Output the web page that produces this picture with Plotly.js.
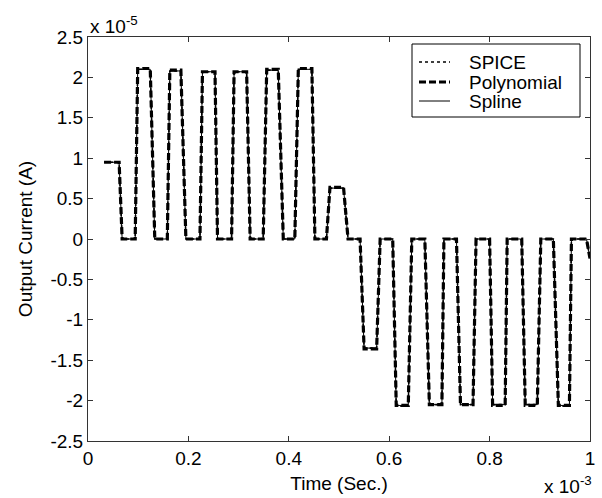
<!DOCTYPE html>
<html>
<head>
<meta charset="utf-8">
<script src="https://cdn.plot.ly/plotly-3.0.1.min.js"></script>
<style>html,body{margin:0;padding:0;background:#fff;}#chart{width:602px;height:498px;}</style>
</head>
<body>
<div id="chart"></div>
<script>
// Time in units of 1e-3 s, current in units of 1e-5 A (as displayed with axis multipliers)
const timeMs = [0.032, 0.062, 0.068, 0.094, 0.099, 0.124, 0.133, 0.158, 0.163, 0.185, 0.195, 0.223, 0.228, 0.253, 0.258, 0.286, 0.291, 0.316, 0.323, 0.349, 0.356, 0.379, 0.389, 0.412, 0.419, 0.446, 0.452, 0.475, 0.482, 0.509, 0.518, 0.542, 0.550, 0.575, 0.582, 0.607, 0.614, 0.638, 0.645, 0.671, 0.680, 0.705, 0.709, 0.734, 0.742, 0.767, 0.773, 0.800, 0.806, 0.831, 0.835, 0.864, 0.871, 0.895, 0.902, 0.927, 0.937, 0.959, 0.963, 0.993, 1.000];
const spice = [0.95, 0.95, 0, 0, 2.10, 2.10, 0, 0, 2.08, 2.08, 0, 0, 2.07, 2.07, 0, 0, 2.07, 2.07, 0, 0, 2.09, 2.09, 0, 0, 2.10, 2.10, 0, 0, 0.63, 0.63, 0, 0, -1.35, -1.35, 0, 0, -2.07, -2.07, 0, 0, -2.05, -2.05, 0, 0, -2.05, -2.05, 0, 0, -2.05, -2.05, 0, 0, -2.05, -2.05, 0, 0, -2.07, -2.07, 0, 0, -0.24];
const polynomial = [0.95, 0.95, 0, 0, 2.11, 2.11, 0, 0, 2.09, 2.09, 0, 0, 2.07, 2.07, 0, 0, 2.07, 2.07, 0, 0, 2.10, 2.10, 0, 0, 2.11, 2.11, 0, 0, 0.64, 0.64, 0, 0, -1.36, -1.36, 0, 0, -2.06, -2.06, 0, 0, -2.05, -2.05, 0, 0, -2.05, -2.05, 0, 0, -2.06, -2.06, 0, 0, -2.06, -2.06, 0, 0, -2.06, -2.06, 0, 0, -0.24];
const spline = [0.95, 0.95, 0, 0, 2.10, 2.10, 0, 0, 2.08, 2.08, 0, 0, 2.07, 2.07, 0, 0, 2.07, 2.07, 0, 0, 2.09, 2.09, 0, 0, 2.10, 2.10, 0, 0, 0.63, 0.63, 0, 0, -1.35, -1.35, 0, 0, -2.06, -2.06, 0, 0, -2.05, -2.05, 0, 0, -2.05, -2.05, 0, 0, -2.05, -2.05, 0, 0, -2.05, -2.05, 0, 0, -2.06, -2.06, 0, 0, -0.24];
const seriesNames = ['SPICE', 'Polynomial', 'Spline'];
const xTicks = [0, 0.2, 0.4, 0.6, 0.8, 1];
const xTickText = ['0', '0.2', '0.4', '0.6', '0.8', '1'];
const yTicks = [-2.5, -2, -1.5, -1, -0.5, 0, 0.5, 1, 1.5, 2, 2.5];
const yTickText = ['-2.5', '-2', '-1.5', '-1', '-0.5', '0', '0.5', '1', '1.5', '2', '2.5'];

const FONT = 'Liberation Sans, Arial, Helvetica, sans-serif';
const FS = 19;

const lineStyles = [
  {color: '#000', width: 1.6, dash: 'dot'},
  {color: '#000', width: 3.2, dash: '7px,3px'},
  {color: '#000', width: 1, dash: 'solid'}
];

const traces = [
  {x: timeMs, y: spline, name: seriesNames[2], mode: 'lines', line: lineStyles[2], showlegend: false},
  {x: timeMs, y: polynomial, name: seriesNames[1], mode: 'lines', line: lineStyles[1], showlegend: false},
  {x: timeMs, y: spice, name: seriesNames[0], mode: 'lines', line: lineStyles[0], showlegend: false}
];

const axisCommon = {
  showgrid: false, zeroline: false, showline: true, linecolor: '#333', linewidth: 1,
  mirror: 'ticks', ticks: 'inside', ticklen: 5, tickcolor: '#333',
  tickfont: {family: FONT, size: FS, color: '#000'}
};

// custom legend box (paper coords of the plot area 88..590 x 37..441 px)
const px = v => (v - 88) / 502;
const py = v => (441 - v) / 404;
const legendRows = [62, 82, 101];
const shapes = [
  {type: 'rect', xref: 'paper', yref: 'paper', x0: px(412), x1: px(580), y0: py(117), y1: py(44),
   line: {color: '#000', width: 1}, fillcolor: '#fff', layer: 'above'}
];
const annotations = [
  {xref: 'paper', yref: 'paper', x: 0, y: 1, xanchor: 'left', yanchor: 'bottom', showarrow: false,
   text: 'x 10<sup>-5</sup>', font: {family: FONT, size: FS, color: '#000'}, yshift: -2},
  {xref: 'paper', yref: 'paper', x: 1, y: py(485), xanchor: 'right', yanchor: 'middle', showarrow: false,
   text: 'x 10<sup>-3</sup>', font: {family: FONT, size: FS, color: '#000'}, xshift: 4}
];
legendRows.forEach((ry, i) => {
  shapes.push({type: 'line', xref: 'paper', yref: 'paper', x0: px(419), x1: px(450), y0: py(ry), y1: py(ry),
    line: {color: lineStyles[i].color, width: i === 1 ? 3 : lineStyles[i].width, dash: lineStyles[i].dash}, layer: 'above'});
  annotations.push({xref: 'paper', yref: 'paper', x: px(467), y: py(ry), xanchor: 'left', yanchor: 'middle',
    showarrow: false, text: seriesNames[i], font: {family: FONT, size: FS, color: '#000'}});
});

const layout = {
  width: 602, height: 498,
  margin: {l: 88, r: 12, t: 37, b: 57},
  paper_bgcolor: '#fff', plot_bgcolor: '#fff',
  font: {family: FONT, size: FS, color: '#000'},
  xaxis: Object.assign({}, axisCommon, {
    range: [0, 1], tickvals: xTicks, ticktext: xTickText,
    title: {text: 'Time (Sec.)', font: {family: FONT, size: FS}, standoff: 8}
  }),
  yaxis: Object.assign({}, axisCommon, {
    range: [-2.5, 2.5], tickvals: yTicks, ticktext: yTickText,
    title: {text: 'Output Current (A)', font: {family: FONT, size: FS}, standoff: 12}
  }),
  shapes: shapes,
  annotations: annotations,
  showlegend: false
};

Plotly.newPlot('chart', traces, layout, {displayModeBar: false, staticPlot: true});
</script>
</body>
</html>
